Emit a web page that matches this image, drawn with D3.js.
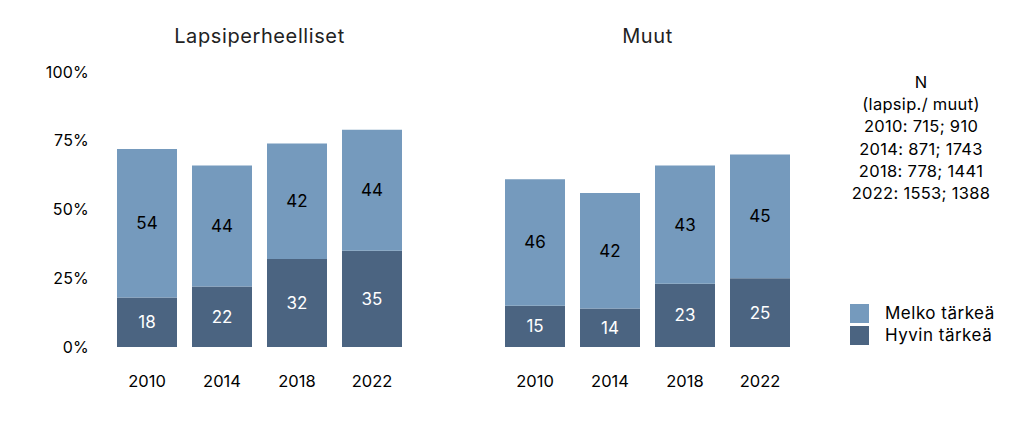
<!DOCTYPE html>
<html><head><meta charset="utf-8">
<script src="https://cdn.jsdelivr.net/npm/d3@7"></script>
<style>body{margin:0;background:#fff;} text{font-family:Inter,"Noto Sans",sans-serif;}</style>
</head><body><svg id="c" width="1024" height="440"></svg>
<script>
const years = ["2010","2014","2018","2022"];
const panels = ["Lapsiperheelliset","Muut"];
const hyvinLapsi = [18,22,32,35];
const melkoLapsi = [54,44,42,44];
const hyvinMuut = [15,14,23,25];
const melkoMuut = [46,42,43,45];
const yTicks = [0,25,50,75,100];
const nLines = ["N","(lapsip./ muut)","2010: 715; 910","2014: 871; 1743","2018: 778; 1441","2022: 1553; 1388"];
const legendLabels = ["Melko tärkeä","Hyvin tärkeä"];
const colors = {melko:"#759abd", hyvin:"#4b6481"};

const svg = d3.select("#c");
const y = d3.scaleLinear().domain([0,100]).range([347,72]);

svg.append("g").selectAll("text").data(yTicks).join("text")
  .attr("x",89).attr("y",d=>y(d)).attr("dy","0.35em")
  .attr("text-anchor","end").attr("font-size",16).attr("fill","#000")
  .attr("letter-spacing",0.2).text(d=>d+"%");

const panelData = [
  {title:panels[0], hyvin:hyvinLapsi, melko:melkoLapsi, range:[109.5,409.5]},
  {title:panels[1], hyvin:hyvinMuut, melko:melkoMuut, range:[497.5,797.5]}
];

panelData.forEach(p=>{
  const x = d3.scaleBand().domain(years).range(p.range).paddingInner(0.2).paddingOuter(0.1);
  const g = svg.append("g");
  const rows = years.map((yr,i)=>({yr, h:p.hyvin[i], m:p.melko[i]}));
  g.selectAll("rect.h").data(rows).join("rect")
    .attr("x",d=>x(d.yr)).attr("width",x.bandwidth())
    .attr("y",d=>y(d.h)).attr("height",d=>y(0)-y(d.h)).attr("fill",colors.hyvin);
  g.selectAll("rect.m").data(rows).join("rect")
    .attr("x",d=>x(d.yr)).attr("width",x.bandwidth())
    .attr("y",d=>y(d.h+d.m)).attr("height",d=>y(d.h)-y(d.h+d.m)).attr("fill",colors.melko);
  g.selectAll("text.hl").data(rows).join("text")
    .attr("x",d=>x(d.yr)+x.bandwidth()/2).attr("y",d=>y(d.h/2)).attr("dy","0.35em")
    .attr("text-anchor","middle").attr("font-size",17).attr("fill","#fff").text(d=>d.h);
  g.selectAll("text.ml").data(rows).join("text")
    .attr("x",d=>x(d.yr)+x.bandwidth()/2).attr("y",d=>y(d.h+d.m/2)).attr("dy","0.35em")
    .attr("text-anchor","middle").attr("font-size",17).attr("fill","#000").text(d=>d.m);
  g.selectAll("text.yr").data(years).join("text")
    .attr("x",d=>x(d)+x.bandwidth()/2).attr("y",381).attr("dy","0.35em")
    .attr("text-anchor","middle").attr("font-size",16.5).attr("fill","#000").text(d=>d);
  g.append("text").attr("x",(p.range[0]+p.range[1])/2).attr("y",36).attr("dy","0.35em")
    .attr("text-anchor","middle").attr("font-size",20).attr("letter-spacing",0.6)
    .attr("fill","#222").text(p.title);
});

svg.append("g").selectAll("text").data(nLines).join("text")
  .attr("x",921).attr("y",(d,i)=>82+i*22.3).attr("dy","0.35em")
  .attr("text-anchor","middle").attr("font-size",16.5).attr("letter-spacing",0.3)
  .attr("fill","#000").text(d=>d);

const lg = svg.append("g");
lg.selectAll("rect").data(legendLabels).join("rect")
  .attr("x",850).attr("y",(d,i)=>304+i*22).attr("width",19).attr("height",19)
  .attr("fill",(d,i)=>i===0?colors.melko:colors.hyvin);
lg.selectAll("text").data(legendLabels).join("text")
  .attr("x",885).attr("y",(d,i)=>313.5+i*22).attr("dy","0.35em")
  .attr("font-size",17).attr("letter-spacing",0.5).attr("fill","#000").text(d=>d);
</script></body></html>
